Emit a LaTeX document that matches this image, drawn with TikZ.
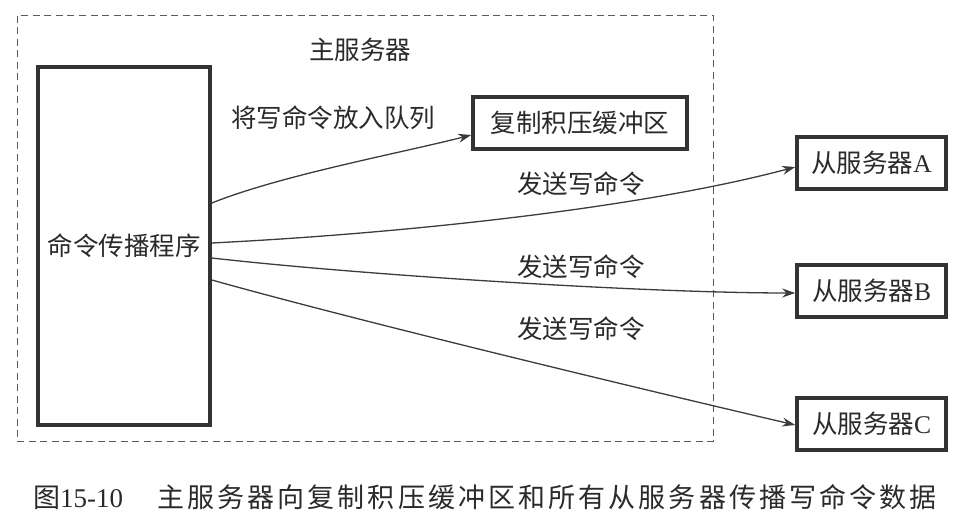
\documentclass[tikz,border=0pt]{standalone}
\usepackage{fontspec}
\setmainfont{Liberation Serif}
\newfontfamily\cjk{Noto Sans CJK SC}
\newfontfamily\cjkcap[LetterSpace=11.5]{Noto Sans CJK SC}
\usetikzlibrary{arrows.meta}
\definecolor{ink}{HTML}{2A2A2A}
\definecolor{boxline}{HTML}{333333}
\definecolor{arrowline}{HTML}{3C3C3C}
\definecolor{dashline}{HTML}{5A5A5A}
\tikzset{
  boxnode/.style={draw=boxline, line width=3.6pt, fill=white, inner sep=0pt, text=ink,
    font=\fontsize{25.5}{30}\selectfont\cjk},
  lbl/.style={text=ink, inner sep=0pt, font=\fontsize{25.5}{30}\selectfont\cjk},
  conn/.style={draw=arrowline, line width=1.3pt, -{Stealth[length=13pt,width=9pt]}},
  master/.style={draw=dashline, line width=1pt, dash pattern=on 7pt off 4.5pt, inner sep=0pt}
}
\begin{document}
\begin{tikzpicture}[x=1pt,y=-1pt]
\useasboundingbox (0,0) rectangle (977,526);
\node[master, minimum width=696pt, minimum height=425pt] (mst) at (365,228.5) {};
\node[lbl] (mstlabel) at (360,50) {主服务器};
\node[boxnode, minimum width=172pt, minimum height=358pt] (prog) at (124,246) {命令传播程序};
\node[boxnode, minimum width=214pt, minimum height=52pt] (buf) at (580,123) {复制积压缓冲区};
\node[boxnode, minimum width=149pt, minimum height=52pt] (sa) at (871.5,163) {从服务器{\rmfamily A}};
\node[boxnode, minimum width=149pt, minimum height=52pt] (sb) at (871.5,291) {从服务器{\rmfamily B}};
\node[boxnode, minimum width=149pt, minimum height=52pt] (sc) at (871.5,424) {从服务器{\rmfamily C}};
\draw[conn] ([yshift=43pt]prog.east) .. controls +(70,-28) and +(-70,18) .. ([yshift=-12pt]buf.west);
\draw[conn] ([yshift=3pt]prog.east) .. controls +(200,-10) and +(-150,40) .. ([yshift=-4pt]sa.west);
\draw[conn] ([yshift=-12pt]prog.east) .. controls +(150,17) and +(-150,0) .. ([yshift=-2pt]sb.west);
\draw[conn] ([yshift=-34pt]prog.east) .. controls +(150,42) and +(-150,-35) .. ([yshift=-1pt]sc.west);
\node[lbl] (l1) at (333,118) {将写命令放入队列};
\node[lbl] (l2) at (581,184) {发送写命令};
\node[lbl] (l3) at (581,267) {发送写命令};
\node[lbl] (l4) at (581,329) {发送写命令};
\node[text=ink, inner sep=0pt, anchor=west, font=\fontsize{27}{30}\selectfont] (cap) at (33,497)
  {{\cjk 图}15-10\hspace{34pt}{\cjkcap 主服务器向复制积压缓冲区和所有从服务器传播写命令数据}};
\end{tikzpicture}
\end{document}
